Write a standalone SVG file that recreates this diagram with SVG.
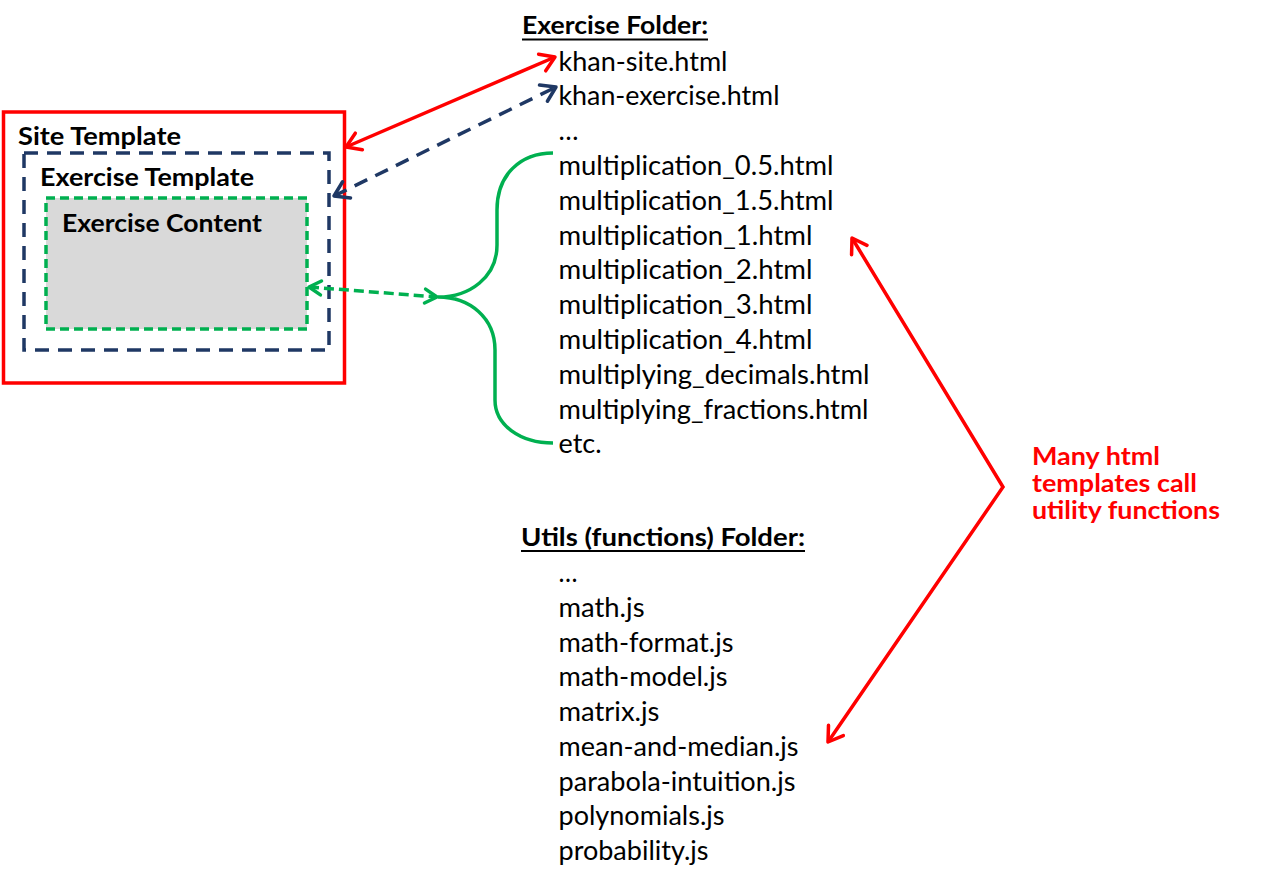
<svg xmlns="http://www.w3.org/2000/svg" width="1264" height="888" viewBox="0 0 1264 888">
<style>
text{font-family:Lato,"Open Sans","Liberation Sans",sans-serif;fill:#000}
.b{font-weight:bold;font-size:24px}
.i{font-size:27px}
.r{fill:#FF0000}
.red{stroke:#FF0000;stroke-width:3.5;fill:none}
.navy{stroke:#1F3864;stroke-width:3.5;fill:none;stroke-dasharray:14 9}
.grn{stroke:#00B050;stroke-width:3.5;fill:none}
</style>
<defs>
<marker id="mr" viewBox="-18 -12 22 24" markerWidth="22" markerHeight="24" refX="0" refY="0" orient="auto-start-reverse" markerUnits="userSpaceOnUse">
<path d="M-14,-9 L0,0 L-14,9" fill="none" stroke="#FF0000" stroke-width="3.5" stroke-linecap="round" stroke-linejoin="round"/>
</marker>
<marker id="mn" viewBox="-18 -12 22 24" markerWidth="22" markerHeight="24" refX="0" refY="0" orient="auto-start-reverse" markerUnits="userSpaceOnUse">
<path d="M-14,-9 L0,0 L-14,9" fill="none" stroke="#1F3864" stroke-width="3.5" stroke-linecap="round" stroke-linejoin="round"/>
</marker>
<marker id="mg" viewBox="-16 -10 20 20" markerWidth="20" markerHeight="20" refX="0" refY="0" orient="auto-start-reverse" markerUnits="userSpaceOnUse">
<path d="M-12,-7 L0,0 L-12,7" fill="none" stroke="#00B050" stroke-width="3.5" stroke-linecap="round" stroke-linejoin="round"/>
</marker>
</defs>

<g id="site-template">
<rect x="3.5" y="112" width="341" height="271" fill="#FFFFFF" stroke="#FF0000" stroke-width="3.5"/>
<text class="b" x="18" y="145" textLength="163" lengthAdjust="spacingAndGlyphs">Site Template</text>
</g>
<g id="exercise-template">
<rect x="24" y="153" width="305" height="197" fill="none" stroke="#1F3864" stroke-width="3.5" stroke-dasharray="14 9"/>
<text class="b" x="40" y="186" textLength="214" lengthAdjust="spacingAndGlyphs">Exercise Template</text>
</g>
<g id="exercise-content">
<rect x="46" y="198" width="261" height="131" fill="#D9D9D9" stroke="#00B050" stroke-width="3.5" stroke-dasharray="9 5"/>
<text class="b" x="62" y="232" textLength="200" lengthAdjust="spacingAndGlyphs">Exercise Content</text>
</g>

<g id="exercise-folder">
<text class="b" x="522" y="34" textLength="186" lengthAdjust="spacingAndGlyphs">Exercise Folder:</text>
<line x1="522" y1="39.5" x2="708" y2="39.5" stroke="#000" stroke-width="2"/>
<text class="i" x="558.5" y="70.5" textLength="169" lengthAdjust="spacingAndGlyphs">khan-site.html</text>
<text class="i" x="558.5" y="105.3" textLength="221" lengthAdjust="spacingAndGlyphs">khan-exercise.html</text>
<text class="i" x="558.5" y="140.1" textLength="20" lengthAdjust="spacingAndGlyphs">…</text>
<text class="i" x="558.5" y="174.9" textLength="275" lengthAdjust="spacingAndGlyphs">multiplication_0.5.html</text>
<text class="i" x="558.5" y="209.7" textLength="275" lengthAdjust="spacingAndGlyphs">multiplication_1.5.html</text>
<text class="i" x="558.5" y="244.5" textLength="254" lengthAdjust="spacingAndGlyphs">multiplication_1.html</text>
<text class="i" x="558.5" y="279.3" textLength="254" lengthAdjust="spacingAndGlyphs">multiplication_2.html</text>
<text class="i" x="558.5" y="314.1" textLength="254" lengthAdjust="spacingAndGlyphs">multiplication_3.html</text>
<text class="i" x="558.5" y="348.9" textLength="254" lengthAdjust="spacingAndGlyphs">multiplication_4.html</text>
<text class="i" x="558.5" y="383.7" textLength="311" lengthAdjust="spacingAndGlyphs">multiplying_decimals.html</text>
<text class="i" x="558.5" y="418.5" textLength="310" lengthAdjust="spacingAndGlyphs">multiplying_fractions.html</text>
<text class="i" x="558.5" y="453.3" textLength="43" lengthAdjust="spacingAndGlyphs">etc.</text>
</g>

<g id="utils-folder">
<text class="b" x="521" y="545.5" textLength="284" lengthAdjust="spacingAndGlyphs">Utils (functions) Folder:</text>
<line x1="521" y1="551" x2="805" y2="551" stroke="#000" stroke-width="2"/>
<text class="i" x="558.5" y="582.3" textLength="19" lengthAdjust="spacingAndGlyphs">…</text>
<text class="i" x="558.5" y="617" textLength="86" lengthAdjust="spacingAndGlyphs">math.js</text>
<text class="i" x="558.5" y="651.7" textLength="175" lengthAdjust="spacingAndGlyphs">math-format.js</text>
<text class="i" x="558.5" y="686.4" textLength="169" lengthAdjust="spacingAndGlyphs">math-model.js</text>
<text class="i" x="558.5" y="721.1" textLength="101" lengthAdjust="spacingAndGlyphs">matrix.js</text>
<text class="i" x="558.5" y="755.8" textLength="240" lengthAdjust="spacingAndGlyphs">mean-and-median.js</text>
<text class="i" x="558.5" y="790.5" textLength="237" lengthAdjust="spacingAndGlyphs">parabola-intuition.js</text>
<text class="i" x="558.5" y="825.2" textLength="166" lengthAdjust="spacingAndGlyphs">polynomials.js</text>
<text class="i" x="558.5" y="859.9" textLength="150" lengthAdjust="spacingAndGlyphs">probability.js</text>
</g>

<g id="note">
<text class="b r" x="1032" y="465" textLength="128" lengthAdjust="spacingAndGlyphs">Many html</text>
<text class="b r" x="1032" y="492" textLength="165" lengthAdjust="spacingAndGlyphs">templates call</text>
<text class="b r" x="1032" y="519" textLength="188" lengthAdjust="spacingAndGlyphs">utility functions</text>
</g>

<g id="connectors">
<line class="red" x1="346" y1="147" x2="555" y2="57" marker-start="url(#mr)" marker-end="url(#mr)"/>
<line class="navy" x1="334" y1="196" x2="556" y2="87" marker-start="url(#mn)" marker-end="url(#mn)"/>
<line class="grn" x1="309" y1="287" x2="437" y2="297" stroke-dasharray="10 5" marker-start="url(#mg)" marker-end="url(#mg)"/>
<path class="grn" d="M553,153 C520,153 497,175 497,210 L497,245 C497,277 470,297 438,297 C470,297 495,318 495,350 L495,400 C495,425 520,443 553,443"/>
<polyline class="red" points="852,238 1003,487 828,742" marker-start="url(#mr)" marker-end="url(#mr)"/>
</g>
</svg>
